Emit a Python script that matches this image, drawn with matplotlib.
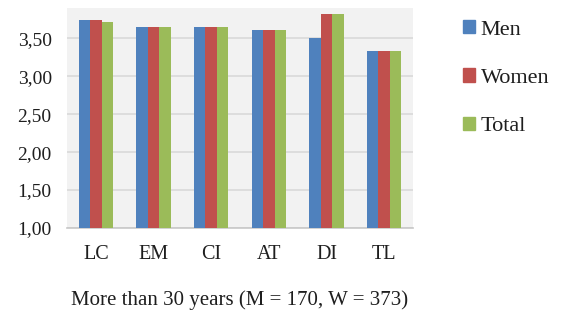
import numpy as np
import matplotlib
matplotlib.use("Agg")
import matplotlib.pyplot as plt
from matplotlib.patches import Patch
from matplotlib.ticker import FuncFormatter

# Mean scores per dimension, respondents older than 30
categories = ["LC", "EM", "CI", "AT", "DI", "TL"]
men = [3.74, 3.65, 3.65, 3.61, 3.50, 3.33]
women = [3.74, 3.65, 3.65, 3.61, 3.82, 3.33]
total = [3.71, 3.65, 3.65, 3.61, 3.82, 3.33]
series_names = ["Men", "Women", "Total"]
colors = ["#4f81bd", "#c0504d", "#9bbb59"]
y_ticks = [1.0, 1.5, 2.0, 2.5, 3.0, 3.5]
caption = "More than 30 years (M = 170, W = 373)"

plt.rcParams["font.family"] = ["Liberation Serif", "DejaVu Serif"]
txt = "#1e1e1e"

fig = plt.figure(figsize=(5.65, 3.22), dpi=100)
ax = fig.add_axes([67 / 565, 1 - 228 / 322, (413 - 67) / 565, (228 - 8) / 322])
ax.set_facecolor("#f2f2f2")

x = np.arange(len(categories))
w = 0.2
for i, (vals, c) in enumerate(zip([men, women, total], colors)):
    ax.bar(x + (i - 1) * w, np.array(vals) - 1.0, w, bottom=1.0,
           color=c, zorder=3)

ax.set_xlim(-0.5, len(categories) - 0.5)
ax.set_ylim(1.0, 3.9)
ax.set_yticks(y_ticks)
ax.yaxis.set_major_formatter(FuncFormatter(lambda v, p: f"{v:.2f}".replace(".", ",")))
ax.set_xticks(x)
ax.set_xticklabels(categories)
ax.grid(axis="y", color="#d9d9d9", linewidth=1.2, zorder=0)
for s in ["left", "right", "top"]:
    ax.spines[s].set_visible(False)
ax.spines["bottom"].set_color("#c8c8c8")
ax.spines["bottom"].set_linewidth(1.2)
ax.tick_params(axis="both", length=0, colors=txt)
ax.tick_params(axis="y", labelsize=14, pad=11)
ax.tick_params(axis="x", labelsize=14.5, pad=12)

handles = [Patch(color=c) for c in colors]
fig.legend(handles, series_names, loc="upper left",
           bbox_to_anchor=(443 / 565, 1 - 0 / 322), frameon=False,
           fontsize=16, handlelength=0.55, handleheight=0.55,
           handletextpad=0.25, labelspacing=1.3, labelcolor=txt)

fig.text(240 / 565, 1 - 300 / 322, caption, ha="center", va="center",
         fontsize=15, color=txt)

fig.savefig("out.png", dpi=100)
